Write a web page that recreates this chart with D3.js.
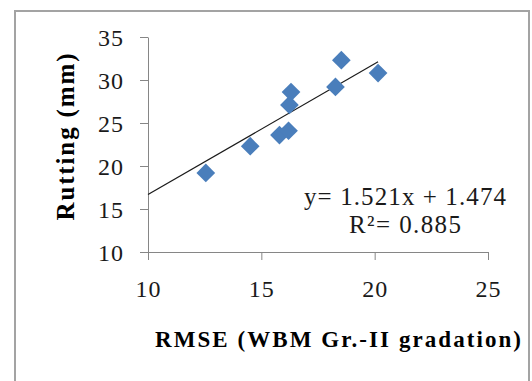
<!DOCTYPE html>
<html>
<head>
<meta charset="utf-8">
<script src="https://cdn.jsdelivr.net/npm/d3@7/dist/d3.min.js"></script>
<style>
  body { margin: 0; background: #fff; }
  svg { display: block; }
  .tick text { font-family: "Liberation Serif", "Times New Roman", serif; font-size: 24px; fill: #1a1a1a; letter-spacing: 1px; }
  .lbl { font-family: "Liberation Serif", "Times New Roman", serif; }
</style>
</head>
<body>
<div id="chart"></div>
<script>
// data
const rmse    = [12.55, 14.51, 15.8, 16.2, 16.24, 16.31, 18.27, 18.53, 20.15];
const rutting = [19.2, 22.3, 23.6, 24.1, 27.1, 28.6, 29.2, 32.3, 30.8];
const xTicks = [10, 15, 20, 25];
const yTicks = [10, 15, 20, 25, 30, 35];
const slope = 1.521, intercept = 1.474, r2 = 0.885;

const width = 532, height = 381;

const svg = d3.select("#chart").append("svg")
  .attr("width", width)
  .attr("height", height);

// outer frame
svg.append("rect")
  .attr("x", 15).attr("y", 11)
  .attr("width", 514).attr("height", 420)
  .attr("fill", "none")
  .attr("stroke", "#a3a3a3")
  .attr("stroke-width", 2);

const x = d3.scaleLinear().domain([10, 25]).range([148, 488]);
const y = d3.scaleLinear().domain([10, 35]).range([252, 37]);

const xAxis = svg.append("g")
  .attr("transform", "translate(0," + y(10) + ")")
  .call(d3.axisBottom(x).tickValues(xTicks).tickSize(8).tickSizeOuter(0).tickPadding(20));

const yAxis = svg.append("g")
  .attr("transform", "translate(" + x(10) + ",0)")
  .call(d3.axisLeft(y).tickValues(yTicks).tickSize(8).tickSizeOuter(0).tickPadding(16));

[xAxis, yAxis].forEach(a => {
  a.select(".domain").attr("stroke", "#868686");
  a.selectAll(".tick line").attr("stroke", "#868686");
});
yAxis.selectAll(".tick text").attr("dy", "0.34em");

// trendline
const trend = [d3.min(x.domain()), d3.max(rmse)].map(v => [v, slope * v + intercept]);
svg.append("path")
  .datum(trend)
  .attr("d", d3.line().x(d => x(d[0])).y(d => y(d[1])))
  .attr("stroke", "#1a1a1a")
  .attr("stroke-width", 1.2)
  .attr("fill", "none");

// diamonds
const pts = rmse.map((v, i) => ({x: v, y: rutting[i]}));
const diamond = d3.symbol().type(d3.symbolSquare).size(175);
svg.selectAll(".pt")
  .data(pts)
  .enter().append("path")
  .attr("class", "pt")
  .attr("d", diamond)
  .attr("transform", d => "translate(" + x(d.x) + "," + y(d.y) + ") rotate(45)")
  .attr("fill", "#4a7ebb");

// equation
svg.append("text")
  .attr("class", "lbl")
  .attr("x", 405).attr("y", 205)
  .attr("text-anchor", "middle")
  .style("font-size", "25px")
  .attr("fill", "#1a1a1a")
  .attr("textLength", 202)
  .attr("lengthAdjust", "spacing")
  .text("y= " + slope + "x + " + intercept);

svg.append("text")
  .attr("class", "lbl")
  .attr("x", 405).attr("y", 233)
  .attr("text-anchor", "middle")
  .style("font-size", "25px")
  .attr("fill", "#1a1a1a")
  .attr("textLength", 112)
  .attr("lengthAdjust", "spacing")
  .text("R\u00b2= " + r2);

// axis titles
svg.append("text")
  .attr("class", "lbl")
  .attr("transform", "translate(74,137) rotate(-90)")
  .attr("text-anchor", "middle")
  .style("font-size", "25px")
  .style("font-weight", "bold")
  .attr("textLength", 167)
  .attr("lengthAdjust", "spacing")
  .text("Rutting (mm)");

svg.append("text")
  .attr("class", "lbl")
  .attr("x", 338).attr("y", 347)
  .attr("text-anchor", "middle")
  .style("font-size", "23px")
  .style("font-weight", "bold")
  .attr("textLength", 366)
  .attr("lengthAdjust", "spacing")
  .text("RMSE (WBM Gr.-II gradation)");
</script>
</body>
</html>
